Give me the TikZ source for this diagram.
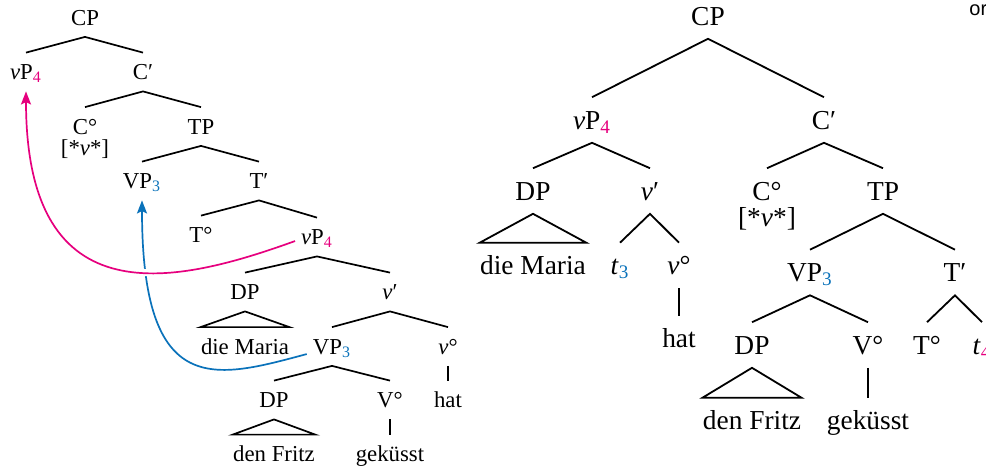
\documentclass[tikz,border=0pt]{standalone}
\usepackage{fontspec}
\setmainfont{Liberation Serif}
\newfontfamily\notefont{Liberation Sans}
\usetikzlibrary{arrows.meta}

\definecolor{movemag}{HTML}{E6007E}
\definecolor{moveblue}{HTML}{0A72BA}

% coloured movement index
\newcommand\trsub[2]{\textsubscript{\textcolor{#1}{#2}}}

\begin{document}
\begin{tikzpicture}[x=0.5pt,y=-0.5pt,
    small/.style={font=\fontsize{11.4}{13}\selectfont,inner sep=0pt,text height=13.3pt,text depth=5.7pt},
    big/.style={font=\fontsize{13.7}{16}\selectfont,inner sep=0pt,text height=15.7pt,text depth=6.7pt},
    smallfeat/.style={font=\fontsize{11.4}{13}\selectfont,inner sep=0pt},
    bigfeat/.style={font=\fontsize{13.7}{16}\selectfont,inner sep=0pt},
    move/.style={line width=0.85pt,-{Stealth[length=6.5pt,width=5pt,inset=1.2pt]}}]

    \useasboundingbox (0,0) rectangle (986,468);
    \clip (0,0) rectangle (986,468);

    % left tree: base structure with the movements
    \begin{scope}[small]
    \node (lCP)    at (85,17.5)  {CP};
    \node (lvP)    at (26,72)    {\textit{ν}P\trsub{movemag}{4}};
    \node (lCbar)  at (143,72)   {C′};
    \node (lC)     at (85,126.5) {C°};
    \node[smallfeat] (lCfeat) at (85,147.5) {[*\textit{ν}*]};
    \node (lTP)    at (201,126.5) {TP};
    \node (lVP)    at (142,181)  {VP\trsub{moveblue}{3}};
    \node (lTbar)  at (259,181)  {T′};
    \node (lT)     at (201,235)  {T°};
    \node (lvP2)   at (317,237)  {\textit{ν}P\trsub{movemag}{4}};
    \node (lDP)    at (245,292)  {DP};
    \node (lvbar)  at (390,292)  {\textit{ν}′};
    \node (lMaria) at (245,346.5) {die Maria};
    \node (lVP2)   at (332,346.5) {VP\trsub{moveblue}{3}};
    \node (lvo)    at (448,346.5) {\textit{ν}°};
    \node (lDP2)   at (274,400)  {DP};
    \node (lV)     at (390,400)  {V°};
    \node (lhat)   at (448,400)  {hat};
    \node (lFritz) at (274,454)  {den Fritz};
    \node (lgek)   at (390,454)  {geküsst};
    \end{scope}

    \begin{scope}[line width=0.85pt]
    \draw (lvP.north) -- (lCP.south) -- (lCbar.north);
    \draw (lC.north) -- (lCbar.south) -- (lTP.north);
    \draw (lVP.north) -- (lTP.south) -- (lTbar.north);
    \draw (lT.north) -- (lTbar.south) -- (lvP2.north);
    \draw (lDP.north) -- (lvP2.south) -- (lvbar.north);
    \draw (lDP.south) -- (lMaria.north west) -- (lMaria.north east) -- cycle;
    \draw (lVP2.north) -- (lvbar.south) -- (lvo.north);
    \draw (lDP2.north) -- (lVP2.south) -- (lV.north);
    \draw (lDP2.south) -- (lFritz.north west) -- (lFritz.north east) -- cycle;
    \draw (lvo.south) -- (lhat.north);
    \draw (lV.south) -- (lgek.north);
    \end{scope}

    % VP first, so the vP arrow can cut across it
    \draw[move,moveblue,shorten <=3pt] ([yshift=-3pt]lVP2.west)
        .. controls +(-97,26) and +(0,200) .. (lVP.south);
    \draw[move,movemag,shorten <=3pt,preaction={draw=white,line width=3.5pt,-}]
        ([yshift=-1pt]lvP2.west)
        .. controls +(-122,44) and +(0,230) .. (lvP.south);

    % right tree: the derived structure
    \begin{scope}[big]
    \node (rCP)    at (708,16)   {CP};
    \node (rvP)    at (592,120)  {\textit{ν}P\trsub{movemag}{4}};
    \node (rCbar)  at (824,120)  {C′};
    \node (rDP)    at (533,191)  {DP};
    \node (rvbar)  at (650,191)  {\textit{ν}′};
    \node (rC)     at (767,191)  {C°};
    \node[bigfeat] (rCfeat) at (767,217) {[*\textit{ν}*]};
    \node (rTP)    at (883,191)  {TP};
    \node (rMaria) at (533,265.5) {die Maria};
    \node (rt)     at (620,265.5) {\textit{t}\trsub{moveblue}{3}};
    \node (rvo)    at (679,265.5) {\textit{ν}°};
    \node (rhat)   at (679,338.5) {hat};
    \node (rVP)    at (810,272.5) {VP\trsub{moveblue}{3}};
    \node (rTbar)  at (955,272.5) {T′};
    \node (rDP2)   at (752,345)  {DP};
    \node (rV)     at (868,345)  {V°};
    \node (rT)     at (927,345)  {T°};
    \node (rt4)    at (982,345)  {\textit{t}\trsub{movemag}{4}};
    \node (rFritz) at (752,420.5) {den Fritz};
    \node (rgek)   at (868,420.5) {geküsst};
    \end{scope}

    \begin{scope}[line width=0.9pt]
    \draw (rvP.north) -- (rCP.south) -- (rCbar.north);
    \draw (rDP.north) -- (rvP.south) -- (rvbar.north);
    \draw (rC.north) -- (rCbar.south) -- (rTP.north);
    \draw (rDP.south) -- (rMaria.north west) -- (rMaria.north east) -- cycle;
    \draw (rt.north) -- (rvbar.south) -- (rvo.north);
    \draw (rvo.south) -- (rhat.north);
    \draw (rVP.north) -- (rTP.south) -- (rTbar.north);
    \draw (rDP2.north) -- (rVP.south) -- (rV.north);
    \draw (rT.north) -- (rTbar.south) -- (rt4.north);
    \draw (rDP2.south) -- (rFritz.north west) -- (rFritz.north east) -- cycle;
    \draw (rV.south) -- (rgek.north);
    \end{scope}

    \node[font=\notefont\fontsize{10}{12}\selectfont,anchor=base west,inner sep=0pt] (ornote) at (969,15) {or};
\end{tikzpicture}
\end{document}
